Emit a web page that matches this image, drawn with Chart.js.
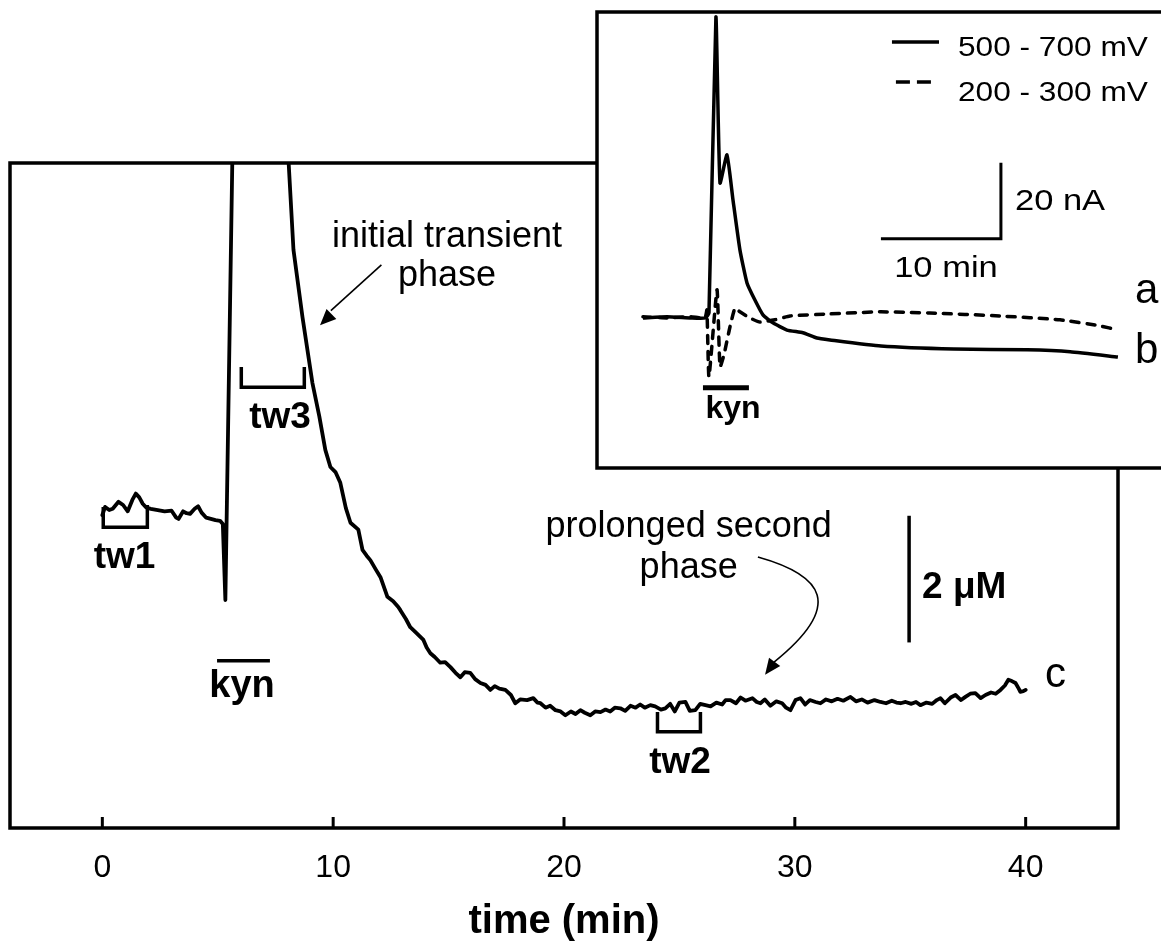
<!DOCTYPE html>
<html lang="en">
<head>
<meta charset="UTF-8" />
<title>kyn response</title>
<script src="https://cdn.jsdelivr.net/npm/chart.js@4.4.0/dist/chart.umd.min.js"></script>
<style>
  html, body { margin: 0; padding: 0; background: #fff; overflow: hidden; }
  #wrap { position: relative; width: 1161px; height: 951px; }
  #main { position: absolute; left: 0; top: 0; }
  #inset { position: absolute; left: 590px; top: 5px; }
</style>
</head>
<body>
<div id="wrap">
  <canvas id="main" width="1161" height="951"></canvas>
  <canvas id="inset" width="640" height="470"></canvas>
</div>
<script>
// main trace c : time (min) and concentration (uM, arbitrary offset)
var traceTime = [0.00, 0.12, 0.3, 0.45, 0.7, 0.9, 1.1, 1.3, 1.45, 1.6, 1.75, 1.9, 2.1, 2.4, 2.7, 3.0, 3.2, 3.3, 3.5, 3.65, 3.8, 4.0, 4.15, 4.3, 4.5, 4.7, 4.9, 5.1, 5.22,
  5.33, 5.66, 6.8, 7.95,
  8.28, 8.67, 9.10, 9.40, 9.66, 9.88, 10.1, 10.31, 10.55, 10.75, 11.09, 11.27, 11.45, 11.61, 11.85, 12.05, 12.35, 12.6, 12.82, 12.91, 13.15, 13.34, 13.6, 13.91,
  14.05, 14.21, 14.4, 14.64, 14.85, 15.08, 15.3, 15.51, 15.7, 15.94, 16.15, 16.38, 16.6, 16.81, 17.0, 17.2, 17.46, 17.7, 17.89, 18.1, 18.4, 18.67, 18.85, 18.98,
  19.2, 19.4, 19.63, 19.85, 20.06, 20.3, 20.5, 20.71, 20.9, 21.14, 21.35, 21.58, 21.8, 22.0, 22.2, 22.44, 22.65, 22.88, 23.1, 23.3, 23.5, 23.74, 23.95, 24.2,
  24.39, 24.6, 24.8, 25.0, 25.26, 25.45, 25.69, 25.9, 26.13, 26.35, 26.6, 26.85, 27.0, 27.21, 27.45, 27.65, 27.86, 28.16, 28.35, 28.51, 28.7, 28.94, 29.2,
  29.45, 29.62, 29.81, 30.03, 30.24, 30.45, 30.65, 30.9, 31.11, 31.35, 31.6, 31.85, 32.1, 32.41, 32.65, 32.9, 33.15, 33.45, 33.71, 33.95, 34.2, 34.4, 34.58,
  34.8, 35.05, 35.25, 35.44, 35.7, 35.95, 36.15, 36.31, 36.5, 36.75, 36.96, 37.2, 37.39, 37.6, 37.82, 38.05, 38.26, 38.5, 38.7, 38.91, 39.1, 39.25, 39.4,
  39.56, 39.7, 39.77, 39.9, 40.0];
var traceUM = [4.94, 5.07, 5.02, 5.04, 5.15, 5.10, 5.00, 5.18, 5.28, 5.22, 5.12, 5.06, 5.04, 5.02, 5.00, 5.01, 4.90, 4.88, 5.00, 4.97, 4.96, 5.04, 5.08, 4.98, 4.90, 4.88, 4.86, 4.85, 4.80,
  3.60, 11.2, 18.0, 11.3,
  9.13, 8.07, 7.03, 6.50, 5.97, 5.70, 5.62, 5.45, 5.05, 4.82, 4.71, 4.39, 4.30, 4.23, 4.08, 3.96, 3.65, 3.58, 3.49, 3.44, 3.30, 3.17, 3.08, 2.97,
  2.85, 2.76, 2.70, 2.61, 2.62, 2.54, 2.45, 2.38, 2.46, 2.45, 2.35, 2.29, 2.26, 2.18, 2.24, 2.20, 2.18, 2.10, 1.97, 2.03, 2.02, 2.05, 1.98, 1.97,
  1.90, 1.93, 1.86, 1.84, 1.78, 1.84, 1.80, 1.86, 1.82, 1.78, 1.84, 1.83, 1.87, 1.84, 1.90, 1.89, 1.85, 1.93, 1.90, 1.95, 1.90, 1.94, 1.92, 1.87,
  1.89, 1.96, 1.84, 1.98, 1.99, 1.85, 1.86, 1.96, 1.94, 1.92, 1.98, 1.95, 2.02, 2.02, 1.97, 2.06, 2.01, 2.05, 1.99, 1.97, 2.03, 1.93, 2.00,
  1.97, 1.90, 1.86, 2.02, 2.05, 1.95, 2.02, 1.99, 1.97, 2.03, 2.00, 2.04, 2.01, 2.07, 2.00, 2.03, 1.98, 2.02, 1.99, 1.97, 2.01, 1.98, 1.97,
  1.99, 1.96, 1.99, 1.94, 1.98, 1.96, 2.02, 2.05, 1.97, 2.06, 2.10, 2.02, 2.07, 2.12, 2.13, 2.05, 2.10, 2.14, 2.12, 2.18, 2.25, 2.34, 2.32,
  2.29, 2.20, 2.15, 2.16, 2.18];
var xTicks = [0, 10, 20, 30, 40];

// time-window brackets on the main trace
var tw1Time = [0.04, 0.04, 1.95, 1.95];
var tw1Val = [5.07, 4.75, 4.75, 5.10];
var tw2Time = [24.05, 24.05, 25.91, 25.91];
var tw2Val = [1.83, 1.52, 1.52, 1.83];
var tw3Time = [6.02, 6.02, 8.75, 8.75];
var tw3Val = [7.28, 6.96, 6.96, 7.28];

// inset traces : time (min) and current (nA, baseline = 0)
var inTimeB = [0, 2, 4, 5.2, 5.5, 6.08, 6.42, 7.0, 7.5, 8.08, 8.67, 9.33, 10.0, 10.83, 12.0, 13.33, 14.5, 15.58, 19.83, 25.9, 32.0, 35.6, 39.58];
var inCurB = [0, 0.3, 0, 0, 1.3, 79.2, 35.5, 42.9, 31.1, 17.9, 9.2, 4.7, 0.8, -1.3, -3.2, -3.9, -5.3, -5.8, -7.4, -8.2, -8.4, -8.9, -10.3];
var inTimeA = [0, 2, 4, 5.17, 5.33, 5.5, 6.17, 6.42, 6.75, 7.25, 7.67, 8.08, 8.9, 9.75, 11.0, 12.25, 15.6, 19.75, 23.9, 29.75, 34.75, 38.08, 39.58];
var inCurA = [0.3, 0, 0.3, 0, 2.1, -15.5, 7.4, -12.9, -9.7, -2.4, 2.6, 1.6, 0, -1.1, -0.5, 0.5, 1.05, 1.6, 1.3, 0.5, -0.5, -2.1, -3.2];

var FONT = "'Liberation Sans', Arial, sans-serif";
Chart.defaults.font.family = FONT;
Chart.defaults.color = '#000';

function pts(xs, ys) {
  return xs.map(function (x, i) { return { x: x, y: ys[i] }; });
}
// text, optionally stretched horizontally (the inset lettering is wider than normal)
function txt(ctx, s, x, y, size, bold, align, sx) {
  sx = sx || 1;
  ctx.save();
  ctx.font = (bold ? 'bold ' : '') + size + 'px ' + FONT;
  ctx.textAlign = align || 'left';
  ctx.textBaseline = 'alphabetic';
  ctx.fillStyle = '#000';
  ctx.translate(x, y);
  ctx.scale(sx, 1);
  ctx.fillText(s, 0, 0);
  ctx.restore();
}
function seg(ctx, x0, y0, x1, y1, w) {
  ctx.lineWidth = w;
  ctx.beginPath();
  ctx.moveTo(x0, y0);
  ctx.lineTo(x1, y1);
  ctx.stroke();
}
function head(ctx, fx, fy, tx, ty, len, half) {
  var a = Math.atan2(ty - fy, tx - fx);
  ctx.beginPath();
  ctx.moveTo(tx, ty);
  ctx.lineTo(tx - len * Math.cos(a) + half * Math.sin(a), ty - len * Math.sin(a) - half * Math.cos(a));
  ctx.lineTo(tx - len * Math.cos(a) - half * Math.sin(a), ty - len * Math.sin(a) + half * Math.cos(a));
  ctx.closePath();
  ctx.fill();
}

function bracket(t, v) {
  return { data: pts(t, v), borderColor: '#000', borderWidth: 3.5, pointRadius: 0, tension: 0, fill: false, borderJoinStyle: 'miter' };
}

var mainDecor = {
  id: 'mainDecor',
  afterDraw: function (chart) {
    var ctx = chart.ctx, a = chart.chartArea;
    var X = function (v) { return chart.scales.x.getPixelForValue(v); };
    var Y = function (v) { return chart.scales.y.getPixelForValue(v); };
    ctx.save();
    ctx.strokeStyle = '#000';
    ctx.fillStyle = '#000';
    ctx.lineWidth = 3.5;
    ctx.strokeRect(a.left, a.top, a.right - a.left, a.bottom - a.top);
    // inward ticks
    xTicks.forEach(function (v) { seg(ctx, X(v), a.bottom, X(v), a.bottom - 11, 3); });

    txt(ctx, 'tw1', X(0.96), Y(4.11), 37, true, 'center');
    txt(ctx, 'tw3', X(7.70), Y(6.32), 37, true, 'center');
    txt(ctx, 'tw2', X(25.03), Y(0.87), 37, true, 'center');

    seg(ctx, X(4.97), Y(2.64), X(7.26), Y(2.64), 3.5);
    txt(ctx, 'kyn', X(6.05), Y(2.07), 38, true, 'center');

    txt(ctx, 'initial transient', X(14.93), Y(9.17), 36, false, 'center');
    txt(ctx, 'phase', X(14.93), Y(8.56), 36, false, 'center');
    seg(ctx, X(12.09), Y(8.89), X(9.9), Y(8.17), 1.6);
    head(ctx, X(12.09), Y(8.89), X(9.43), Y(7.94), 16, 7);

    txt(ctx, 'prolonged second', X(25.4), Y(4.59), 36, false, 'center');
    txt(ctx, 'phase', X(25.4), Y(3.95), 36, false, 'center');
    ctx.lineWidth = 1.6;
    ctx.beginPath();
    ctx.moveTo(X(28.40), Y(4.28));
    ctx.bezierCurveTo(X(31.24), Y(3.99), X(32.17), Y(3.52), X(29.1), Y(2.62));
    ctx.stroke();
    head(ctx, X(29.9), Y(3.0), X(28.71), Y(2.42), 16, 7);

    // 2 uM scale bar
    seg(ctx, X(34.95), Y(4.93), X(34.95), Y(2.93), 3.5);
    txt(ctx, '2 \u03bcM', X(35.51), Y(3.63), 37, true, 'left');

    txt(ctx, 'c', X(40.84), Y(2.23), 42, false, 'left');
    ctx.restore();
  }
};

new Chart(document.getElementById('main'), {
  type: 'line',
  data: {
    datasets: [
      { label: 'c', data: pts(traceTime, traceUM), borderColor: '#000', borderWidth: 3.8, pointRadius: 0, tension: 0, fill: false, borderJoinStyle: 'round', borderCapStyle: 'round' },
      bracket(tw1Time, tw1Val),
      bracket(tw2Time, tw2Val),
      bracket(tw3Time, tw3Val)
    ]
  },
  options: {
    responsive: false,
    animation: false,
    devicePixelRatio: 1,
    layout: { padding: { left: 10, right: 43, top: 163, bottom: 0 } },
    plugins: { legend: { display: false }, tooltip: { enabled: false } },
    scales: {
      x: {
        type: 'linear', min: -4, max: 44,
        grid: { display: false }, border: { display: false },
        afterBuildTicks: function (s) { s.ticks = xTicks.map(function (v) { return { value: v }; }); },
        afterFit: function (s) { s.height = 123; },
        ticks: { font: { size: 32 }, padding: 13, maxRotation: 0, color: '#000' },
        title: { display: true, text: 'time (min)', color: '#000', font: { size: 40, weight: 'bold' }, padding: { top: 0, bottom: 5 } }
      },
      y: { type: 'linear', min: 0, max: 10.5, display: false }
    }
  },
  plugins: [mainDecor]
});

var insetBg = {
  id: 'insetBg',
  beforeDraw: function (chart) {
    var ctx = chart.ctx, a = chart.chartArea;
    ctx.save();
    ctx.fillStyle = '#fff';
    ctx.fillRect(a.left, a.top, a.right - a.left, a.bottom - a.top);
    ctx.restore();
  }
};

var insetDecor = {
  id: 'insetDecor',
  afterDraw: function (chart) {
    var ctx = chart.ctx, a = chart.chartArea;
    var X = function (v) { return chart.scales.x.getPixelForValue(v); };
    var Y = function (v) { return chart.scales.y.getPixelForValue(v); };
    var ds = chart.data.datasets;
    ctx.save();
    ctx.strokeStyle = '#000';
    ctx.fillStyle = '#000';
    ctx.lineWidth = 3.5;
    ctx.strokeRect(a.left, a.top, a.right - a.left + 20, a.bottom - a.top);

    // legend
    seg(ctx, X(20.75), Y(72.6), X(24.67), Y(72.6), 3.5);
    txt(ctx, ds[0].label, X(26.25), Y(68.9), 28, false, 'left', 1.13);
    ctx.setLineDash([14, 7]);
    seg(ctx, X(21.08), Y(62.1), X(24.58), Y(62.1), 3.5);
    ctx.setLineDash([]);
    txt(ctx, ds[1].label, X(26.25), Y(57.1), 28, false, 'left', 1.13);

    // scale bars
    ctx.lineWidth = 3;
    ctx.beginPath();
    ctx.moveTo(X(19.83), Y(20.8));
    ctx.lineTo(X(29.83), Y(20.8));
    ctx.lineTo(X(29.83), Y(40.8));
    ctx.stroke();
    txt(ctx, '20 nA', X(31.0), Y(28.4), 30, false, 'left', 1.15);
    txt(ctx, '10 min', X(25.25), Y(10.8), 30, false, 'center', 1.15);

    txt(ctx, 'a', X(41.0), Y(3.9), 42, false, 'left');
    txt(ctx, 'b', X(41.0), Y(-11.8), 42, false, 'left');

    seg(ctx, X(5.0), Y(-18.4), X(8.83), Y(-18.4), 5);
    txt(ctx, 'kyn', X(7.5), Y(-26.3), 32, true, 'center');
    ctx.restore();
  }
};

new Chart(document.getElementById('inset'), {
  type: 'line',
  data: {
    datasets: [
      { label: '500 - 700 mV', data: pts(inTimeB, inCurB), borderColor: '#000', borderWidth: 3.5, pointRadius: 0, tension: 0.15, fill: false, borderJoinStyle: 'round' },
      { label: '200 - 300 mV', data: pts(inTimeA, inCurA), borderColor: '#000', borderWidth: 3.5, borderDash: [8, 8], borderCapStyle: 'round', pointRadius: 0, tension: 0.15, fill: false }
    ]
  },
  options: {
    responsive: false,
    animation: false,
    devicePixelRatio: 1,
    layout: { padding: { left: 7, top: 7, bottom: 7, right: 0 } },
    plugins: { legend: { display: false }, tooltip: { enabled: false } },
    scales: {
      x: { type: 'linear', min: -3.83, max: 48.92, display: false },
      y: { type: 'linear', min: -39.5, max: 80.5, display: false }
    }
  },
  plugins: [insetBg, insetDecor]
});
</script>
</body>
</html>
